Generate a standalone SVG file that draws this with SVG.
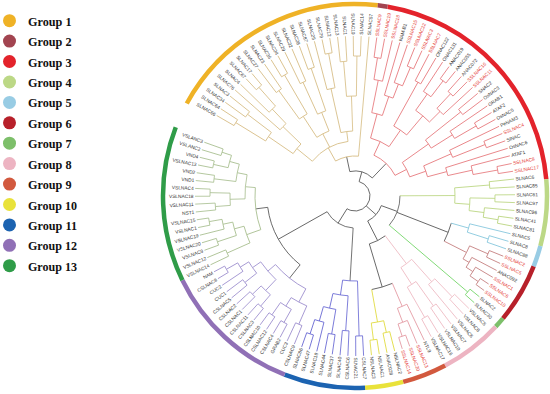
<svg xmlns="http://www.w3.org/2000/svg" width="550" height="394" viewBox="0 0 550 394">
<style>
.t{font-family:"Liberation Sans",Arial,sans-serif;font-size:4.8px;fill:#333}
.r{fill:#E53935}
.e{text-anchor:end}
.lg{font-family:"Liberation Serif","Times New Roman",serif;font-size:13px;font-weight:bold;fill:#111}
</style>
<rect width="550" height="394" fill="#fff"/>
<g id="legend">
<g id="legend-group1"><circle cx="9.5" cy="20.7" r="6.5" fill="#EFB226"/><text class="lg" x="28" y="25.7" textLength="43.5" lengthAdjust="spacingAndGlyphs">Group 1</text></g>
<g id="legend-group2"><circle cx="9.5" cy="41.1" r="6.5" fill="#A24450"/><text class="lg" x="28" y="46.1" textLength="43.5" lengthAdjust="spacingAndGlyphs">Group 2</text></g>
<g id="legend-group3"><circle cx="9.5" cy="61.5" r="6.5" fill="#E3232B"/><text class="lg" x="28" y="66.5" textLength="43.5" lengthAdjust="spacingAndGlyphs">Group 3</text></g>
<g id="legend-group4"><circle cx="9.5" cy="82" r="6.5" fill="#BCD886"/><text class="lg" x="28" y="87" textLength="43.5" lengthAdjust="spacingAndGlyphs">Group 4</text></g>
<g id="legend-group5"><circle cx="9.5" cy="102.4" r="6.5" fill="#98CCE4"/><text class="lg" x="28" y="107.4" textLength="43.5" lengthAdjust="spacingAndGlyphs">Group 5</text></g>
<g id="legend-group6"><circle cx="9.5" cy="122.8" r="6.5" fill="#B7202A"/><text class="lg" x="28" y="127.8" textLength="43.5" lengthAdjust="spacingAndGlyphs">Group 6</text></g>
<g id="legend-group7"><circle cx="9.5" cy="143.2" r="6.5" fill="#7DBF6A"/><text class="lg" x="28" y="148.2" textLength="43.5" lengthAdjust="spacingAndGlyphs">Group 7</text></g>
<g id="legend-group8"><circle cx="9.5" cy="163.6" r="6.5" fill="#EDB4C2"/><text class="lg" x="28" y="168.6" textLength="43.5" lengthAdjust="spacingAndGlyphs">Group 8</text></g>
<g id="legend-group9"><circle cx="9.5" cy="184.1" r="6.5" fill="#D2593E"/><text class="lg" x="28" y="189.1" textLength="43.5" lengthAdjust="spacingAndGlyphs">Group 9</text></g>
<g id="legend-group10"><circle cx="9.5" cy="204.5" r="6.5" fill="#E9E23A"/><text class="lg" x="28" y="209.5" textLength="49" lengthAdjust="spacingAndGlyphs">Group 10</text></g>
<g id="legend-group11"><circle cx="9.5" cy="224.9" r="6.5" fill="#1C63B1"/><text class="lg" x="28" y="229.9" textLength="49" lengthAdjust="spacingAndGlyphs">Group 11</text></g>
<g id="legend-group12"><circle cx="9.5" cy="245.3" r="6.5" fill="#9070B6"/><text class="lg" x="28" y="250.3" textLength="49" lengthAdjust="spacingAndGlyphs">Group 12</text></g>
<g id="legend-group13"><circle cx="9.5" cy="265.7" r="6.5" fill="#2F9C48"/><text class="lg" x="28" y="270.7" textLength="49" lengthAdjust="spacingAndGlyphs">Group 13</text></g>
</g>
<g transform="translate(355,196)">
<g id="ring" fill="none" stroke-width="4.5">
<circle r="192" pathLength="360" stroke-dasharray="68 360" transform="rotate(208.8)" stroke="#EFB226"/>
<circle r="192" pathLength="360" stroke-dasharray="3 360" transform="rotate(276.8)" stroke="#A24450"/>
<circle r="192" pathLength="360" stroke-dasharray="75.2 360" transform="rotate(279.8)" stroke="#E3232B"/>
<circle r="192" pathLength="360" stroke-dasharray="20.1 360" transform="rotate(355)" stroke="#BCD886"/>
<circle r="192" pathLength="360" stroke-dasharray="6.4 360" transform="rotate(375.1)" stroke="#98CCE4"/>
<circle r="192" pathLength="360" stroke-dasharray="18.1 360" transform="rotate(381.5)" stroke="#B7202A"/>
<circle r="192" pathLength="360" stroke-dasharray="3.3 360" transform="rotate(399.6)" stroke="#7DBF6A"/>
<circle r="192" pathLength="360" stroke-dasharray="19.1 360" transform="rotate(402.9)" stroke="#EDB4C2"/>
<circle r="192" pathLength="360" stroke-dasharray="13.5 360" transform="rotate(422)" stroke="#D2593E"/>
<circle r="192" pathLength="360" stroke-dasharray="11.5 360" transform="rotate(435.5)" stroke="#E9E23A"/>
<circle r="192" pathLength="360" stroke-dasharray="24.5 360" transform="rotate(447)" stroke="#1C63B1"/>
<circle r="192" pathLength="360" stroke-dasharray="42.5 360" transform="rotate(471.5)" stroke="#9070B6"/>
<circle r="192" pathLength="360" stroke-dasharray="47 360" transform="rotate(514)" stroke="#2F9C48"/>
</g>
<g id="connectors" fill="none" stroke-width="0.8">
<g stroke="#555">
<circle r="15" pathLength="360" stroke-dasharray="196.09 360" transform="rotate(285.88)"/>
<line x1="15" x2="25" transform="rotate(285.88)"/>
<circle r="25" pathLength="360" stroke-dasharray="55.8 360" transform="rotate(257.98)"/>
<line x1="25" x2="40" transform="rotate(257.98)"/>
<line x1="25" x2="45" transform="rotate(313.78)"/>
<line x1="15" x2="28" transform="rotate(401.57)"/>
<circle r="28" pathLength="360" stroke-dasharray="42.98 360" transform="rotate(380.08)"/>
<line x1="28" x2="45" transform="rotate(380.08)"/>
<circle r="45" pathLength="360" stroke-dasharray="40.68 360" transform="rotate(359.74)"/>
<line x1="45" x2="100" transform="rotate(381.31)"/>
<circle r="100" pathLength="360" stroke-dasharray="11.1 360" transform="rotate(375.76)"/>
<line x1="28" x2="50" transform="rotate(423.06)"/>
<circle r="50" pathLength="360" stroke-dasharray="20.61 360" transform="rotate(412.75)"/>
<line x1="50" x2="95" transform="rotate(433.36)"/>
<circle r="95" pathLength="360" stroke-dasharray="13.03 360" transform="rotate(426.84)"/>
<line x1="15" x2="32" transform="rotate(481.97)"/>
<circle r="32" pathLength="360" stroke-dasharray="57.24 360" transform="rotate(453.35)"/>
<line x1="32" x2="85" transform="rotate(453.35)"/>
<line x1="32" x2="88" transform="rotate(510.59)"/>
<circle r="88" pathLength="360" stroke-dasharray="44.03 360" transform="rotate(488.57)"/>
<line x1="88" x2="105" transform="rotate(488.57)"/>
<line x1="88" x2="100" transform="rotate(532.6)"/>
</g>
<g stroke="#D6BC83">
<circle r="40" pathLength="360" stroke-dasharray="34.07 360" transform="rotate(240.94)"/>
<line x1="40" x2="55" transform="rotate(240.94)"/>
<circle r="55" pathLength="360" stroke-dasharray="43.5 360" transform="rotate(219.19)"/>
<line x1="40" x2="160" transform="rotate(275.01)"/>
<line x1="55" x2="75" transform="rotate(219.19)"/>
<circle r="75" pathLength="360" stroke-dasharray="9.51 360" transform="rotate(214.43)"/>
<line x1="55" x2="70" transform="rotate(242.61)"/>
<circle r="70" pathLength="360" stroke-dasharray="11.28 360" transform="rotate(236.97)"/>
<line x1="55" x2="65" transform="rotate(262.69)"/>
<circle r="65" pathLength="360" stroke-dasharray="10.56 360" transform="rotate(257.41)"/>
<line x1="75" x2="105" transform="rotate(214.43)"/>
<circle r="105" pathLength="360" stroke-dasharray="5.64 360" transform="rotate(211.61)"/>
<line x1="75" x2="100" transform="rotate(223.94)"/>
<circle r="100" pathLength="360" stroke-dasharray="4.94 360" transform="rotate(221.47)"/>
<line x1="105" x2="140" transform="rotate(211.61)"/>
<circle r="140" pathLength="360" stroke-dasharray="2.82 360" transform="rotate(210.2)"/>
<line x1="105" x2="135" transform="rotate(217.25)"/>
<circle r="135" pathLength="360" stroke-dasharray="2.81 360" transform="rotate(215.84)"/>
<line x1="100" x2="160" transform="rotate(221.47)"/>
<line x1="100" x2="120" transform="rotate(226.41)"/>
<circle r="120" pathLength="360" stroke-dasharray="4.23 360" transform="rotate(224.29)"/>
<line x1="120" x2="160" transform="rotate(224.29)"/>
<line x1="120" x2="145" transform="rotate(228.52)"/>
<circle r="145" pathLength="360" stroke-dasharray="2.82 360" transform="rotate(227.11)"/>
<line x1="140" x2="160" transform="rotate(210.2)"/>
<line x1="140" x2="160" transform="rotate(213.02)"/>
<line x1="135" x2="160" transform="rotate(215.84)"/>
<line x1="135" x2="160" transform="rotate(218.65)"/>
<line x1="145" x2="160" transform="rotate(227.11)"/>
<line x1="145" x2="160" transform="rotate(229.93)"/>
<line x1="70" x2="95" transform="rotate(236.97)"/>
<circle r="95" pathLength="360" stroke-dasharray="5.64 360" transform="rotate(234.15)"/>
<line x1="70" x2="90" transform="rotate(248.25)"/>
<circle r="90" pathLength="360" stroke-dasharray="5.63 360" transform="rotate(245.43)"/>
<line x1="95" x2="130" transform="rotate(234.15)"/>
<circle r="130" pathLength="360" stroke-dasharray="2.82 360" transform="rotate(232.74)"/>
<line x1="130" x2="160" transform="rotate(232.74)"/>
<line x1="130" x2="160" transform="rotate(235.56)"/>
<line x1="95" x2="140" transform="rotate(239.79)"/>
<circle r="140" pathLength="360" stroke-dasharray="2.82 360" transform="rotate(238.38)"/>
<line x1="140" x2="160" transform="rotate(238.38)"/>
<line x1="140" x2="160" transform="rotate(241.2)"/>
<line x1="90" x2="125" transform="rotate(245.43)"/>
<circle r="125" pathLength="360" stroke-dasharray="2.81 360" transform="rotate(244.02)"/>
<line x1="125" x2="160" transform="rotate(244.02)"/>
<line x1="125" x2="160" transform="rotate(246.83)"/>
<line x1="90" x2="135" transform="rotate(251.06)"/>
<circle r="135" pathLength="360" stroke-dasharray="2.82 360" transform="rotate(249.65)"/>
<line x1="135" x2="160" transform="rotate(249.65)"/>
<line x1="135" x2="160" transform="rotate(252.47)"/>
<line x1="65" x2="110" transform="rotate(257.41)"/>
<circle r="110" pathLength="360" stroke-dasharray="4.23 360" transform="rotate(255.29)"/>
<line x1="110" x2="160" transform="rotate(255.29)"/>
<line x1="110" x2="145" transform="rotate(259.52)"/>
<circle r="145" pathLength="360" stroke-dasharray="2.81 360" transform="rotate(258.11)"/>
<line x1="145" x2="160" transform="rotate(258.11)"/>
<line x1="145" x2="160" transform="rotate(260.92)"/>
<line x1="65" x2="100" transform="rotate(267.97)"/>
<circle r="100" pathLength="360" stroke-dasharray="5.64 360" transform="rotate(265.15)"/>
<line x1="100" x2="135" transform="rotate(265.15)"/>
<circle r="135" pathLength="360" stroke-dasharray="2.82 360" transform="rotate(263.74)"/>
<line x1="135" x2="160" transform="rotate(263.74)"/>
<line x1="135" x2="160" transform="rotate(266.56)"/>
<line x1="100" x2="140" transform="rotate(270.79)"/>
<circle r="140" pathLength="360" stroke-dasharray="2.82 360" transform="rotate(269.38)"/>
<line x1="140" x2="160" transform="rotate(269.38)"/>
<line x1="140" x2="160" transform="rotate(272.2)"/>
</g>
<g stroke="#E6787C">
<circle r="45" pathLength="360" stroke-dasharray="37.87 360" transform="rotate(294.84)"/>
<line x1="45" x2="60" transform="rotate(294.84)"/>
<circle r="60" pathLength="360" stroke-dasharray="19.55 360" transform="rotate(285.06)"/>
<line x1="45" x2="58" transform="rotate(332.71)"/>
<circle r="58" pathLength="360" stroke-dasharray="16.03 360" transform="rotate(324.69)"/>
<line x1="60" x2="85" transform="rotate(285.06)"/>
<circle r="85" pathLength="360" stroke-dasharray="7.4 360" transform="rotate(281.36)"/>
<line x1="60" x2="80" transform="rotate(304.61)"/>
<circle r="80" pathLength="360" stroke-dasharray="11.27 360" transform="rotate(298.97)"/>
<line x1="85" x2="118" transform="rotate(281.36)"/>
<circle r="118" pathLength="360" stroke-dasharray="4.23 360" transform="rotate(279.24)"/>
<line x1="118" x2="160" transform="rotate(283.47)"/>
<line x1="118" x2="140" transform="rotate(279.24)"/>
<circle r="140" pathLength="360" stroke-dasharray="2.82 360" transform="rotate(277.83)"/>
<line x1="140" x2="160" transform="rotate(277.83)"/>
<line x1="140" x2="160" transform="rotate(280.65)"/>
<line x1="85" x2="105" transform="rotate(288.76)"/>
<circle r="105" pathLength="360" stroke-dasharray="4.93 360" transform="rotate(286.29)"/>
<line x1="105" x2="160" transform="rotate(286.29)"/>
<line x1="105" x2="120" transform="rotate(291.22)"/>
<circle r="120" pathLength="360" stroke-dasharray="4.23 360" transform="rotate(289.1)"/>
<line x1="120" x2="160" transform="rotate(289.1)"/>
<line x1="120" x2="140" transform="rotate(293.33)"/>
<circle r="140" pathLength="360" stroke-dasharray="2.82 360" transform="rotate(291.92)"/>
<line x1="140" x2="160" transform="rotate(291.92)"/>
<line x1="140" x2="160" transform="rotate(294.74)"/>
<line x1="80" x2="130" transform="rotate(298.97)"/>
<circle r="130" pathLength="360" stroke-dasharray="2.82 360" transform="rotate(297.56)"/>
<line x1="130" x2="160" transform="rotate(297.56)"/>
<line x1="130" x2="160" transform="rotate(300.38)"/>
<line x1="80" x2="105" transform="rotate(310.24)"/>
<circle r="105" pathLength="360" stroke-dasharray="9.86 360" transform="rotate(305.31)"/>
<line x1="105" x2="125" transform="rotate(305.31)"/>
<circle r="125" pathLength="360" stroke-dasharray="4.23 360" transform="rotate(303.19)"/>
<line x1="125" x2="160" transform="rotate(303.19)"/>
<line x1="125" x2="145" transform="rotate(307.42)"/>
<circle r="145" pathLength="360" stroke-dasharray="2.82 360" transform="rotate(306.01)"/>
<line x1="145" x2="160" transform="rotate(306.01)"/>
<line x1="145" x2="160" transform="rotate(308.83)"/>
<line x1="105" x2="120" transform="rotate(315.17)"/>
<circle r="120" pathLength="360" stroke-dasharray="4.22 360" transform="rotate(313.06)"/>
<line x1="120" x2="160" transform="rotate(317.28)"/>
<line x1="120" x2="140" transform="rotate(313.06)"/>
<circle r="140" pathLength="360" stroke-dasharray="2.82 360" transform="rotate(311.65)"/>
<line x1="140" x2="160" transform="rotate(311.65)"/>
<line x1="140" x2="160" transform="rotate(314.47)"/>
<line x1="58" x2="90" transform="rotate(324.69)"/>
<circle r="90" pathLength="360" stroke-dasharray="6.35 360" transform="rotate(321.51)"/>
<line x1="90" x2="135" transform="rotate(321.51)"/>
<circle r="135" pathLength="360" stroke-dasharray="2.82 360" transform="rotate(320.1)"/>
<line x1="135" x2="160" transform="rotate(320.1)"/>
<line x1="135" x2="160" transform="rotate(322.92)"/>
<line x1="90" x2="115" transform="rotate(327.86)"/>
<circle r="115" pathLength="360" stroke-dasharray="4.23 360" transform="rotate(325.74)"/>
<line x1="115" x2="160" transform="rotate(325.74)"/>
<line x1="115" x2="140" transform="rotate(329.97)"/>
<circle r="140" pathLength="360" stroke-dasharray="2.81 360" transform="rotate(328.56)"/>
<line x1="140" x2="160" transform="rotate(328.56)"/>
<line x1="140" x2="160" transform="rotate(331.37)"/>
<line x1="58" x2="75" transform="rotate(340.72)"/>
<circle r="75" pathLength="360" stroke-dasharray="8.81 360" transform="rotate(336.31)"/>
<line x1="75" x2="105" transform="rotate(336.31)"/>
<circle r="105" pathLength="360" stroke-dasharray="4.23 360" transform="rotate(334.19)"/>
<line x1="105" x2="160" transform="rotate(334.19)"/>
<line x1="105" x2="140" transform="rotate(338.42)"/>
<circle r="140" pathLength="360" stroke-dasharray="2.82 360" transform="rotate(337.01)"/>
<line x1="140" x2="160" transform="rotate(337.01)"/>
<line x1="140" x2="160" transform="rotate(339.83)"/>
<line x1="75" x2="95" transform="rotate(345.12)"/>
<circle r="95" pathLength="360" stroke-dasharray="4.93 360" transform="rotate(342.65)"/>
<line x1="95" x2="160" transform="rotate(342.65)"/>
<line x1="95" x2="120" transform="rotate(347.58)"/>
<circle r="120" pathLength="360" stroke-dasharray="4.23 360" transform="rotate(345.46)"/>
<line x1="120" x2="160" transform="rotate(345.46)"/>
<line x1="120" x2="145" transform="rotate(349.69)"/>
<circle r="145" pathLength="360" stroke-dasharray="2.82 360" transform="rotate(348.28)"/>
<line x1="145" x2="160" transform="rotate(348.28)"/>
<line x1="145" x2="160" transform="rotate(351.1)"/>
</g>
<g stroke="#B7D37A">
<line x1="45" x2="100" transform="rotate(359.74)"/>
<circle r="100" pathLength="360" stroke-dasharray="8.81 360" transform="rotate(355.33)"/>
<line x1="100" x2="135" transform="rotate(355.33)"/>
<circle r="135" pathLength="360" stroke-dasharray="2.82 360" transform="rotate(353.92)"/>
<line x1="135" x2="160" transform="rotate(353.92)"/>
<line x1="135" x2="160" transform="rotate(356.74)"/>
<line x1="100" x2="115" transform="rotate(364.14)"/>
<circle r="115" pathLength="360" stroke-dasharray="6.35 360" transform="rotate(360.96)"/>
<line x1="115" x2="140" transform="rotate(360.96)"/>
<circle r="140" pathLength="360" stroke-dasharray="2.82 360" transform="rotate(359.55)"/>
<line x1="140" x2="160" transform="rotate(359.55)"/>
<line x1="140" x2="160" transform="rotate(362.37)"/>
<line x1="115" x2="130" transform="rotate(367.31)"/>
<circle r="130" pathLength="360" stroke-dasharray="4.23 360" transform="rotate(365.19)"/>
<line x1="130" x2="160" transform="rotate(365.19)"/>
<line x1="130" x2="145" transform="rotate(369.42)"/>
<circle r="145" pathLength="360" stroke-dasharray="2.82 360" transform="rotate(368.01)"/>
<line x1="145" x2="160" transform="rotate(368.01)"/>
<line x1="145" x2="160" transform="rotate(370.83)"/>
</g>
<g stroke="#84C6DC">
<line x1="100" x2="118" transform="rotate(375.76)"/>
<circle r="118" pathLength="360" stroke-dasharray="4.23 360" transform="rotate(373.64)"/>
<line x1="118" x2="160" transform="rotate(373.64)"/>
<line x1="118" x2="140" transform="rotate(377.87)"/>
<circle r="140" pathLength="360" stroke-dasharray="2.82 360" transform="rotate(376.46)"/>
<line x1="140" x2="160" transform="rotate(376.46)"/>
<line x1="140" x2="160" transform="rotate(379.28)"/>
</g>
<g stroke="#C57F7F">
<line x1="100" x2="125" transform="rotate(386.86)"/>
<circle r="125" pathLength="360" stroke-dasharray="6.69 360" transform="rotate(383.51)"/>
<line x1="125" x2="145" transform="rotate(383.51)"/>
<circle r="145" pathLength="360" stroke-dasharray="2.82 360" transform="rotate(382.1)"/>
<line x1="145" x2="160" transform="rotate(382.1)"/>
<line x1="145" x2="160" transform="rotate(384.92)"/>
<line x1="125" x2="132" transform="rotate(390.2)"/>
<circle r="132" pathLength="360" stroke-dasharray="4.94 360" transform="rotate(387.73)"/>
<line x1="132" x2="160" transform="rotate(387.73)"/>
<line x1="132" x2="140" transform="rotate(392.67)"/>
<circle r="140" pathLength="360" stroke-dasharray="4.23 360" transform="rotate(390.55)"/>
<line x1="140" x2="160" transform="rotate(390.55)"/>
<line x1="140" x2="150" transform="rotate(394.78)"/>
<circle r="150" pathLength="360" stroke-dasharray="2.82 360" transform="rotate(393.37)"/>
<line x1="150" x2="160" transform="rotate(393.37)"/>
<line x1="150" x2="160" transform="rotate(396.19)"/>
</g>
<g stroke="#6FD463">
<line x1="45" x2="148" transform="rotate(400.42)"/>
<circle r="148" pathLength="360" stroke-dasharray="2.81 360" transform="rotate(399.01)"/>
<line x1="148" x2="160" transform="rotate(399.01)"/>
<line x1="148" x2="160" transform="rotate(401.82)"/>
</g>
<g stroke="#EEB9C2">
<line x1="50" x2="85" transform="rotate(412.75)"/>
<circle r="85" pathLength="360" stroke-dasharray="9.16 360" transform="rotate(408.17)"/>
<line x1="85" x2="115" transform="rotate(408.17)"/>
<circle r="115" pathLength="360" stroke-dasharray="4.23 360" transform="rotate(406.05)"/>
<line x1="115" x2="160" transform="rotate(410.28)"/>
<line x1="115" x2="140" transform="rotate(406.05)"/>
<circle r="140" pathLength="360" stroke-dasharray="2.82 360" transform="rotate(404.64)"/>
<line x1="140" x2="160" transform="rotate(404.64)"/>
<line x1="140" x2="160" transform="rotate(407.46)"/>
<line x1="85" x2="105" transform="rotate(417.33)"/>
<circle r="105" pathLength="360" stroke-dasharray="5.63 360" transform="rotate(414.51)"/>
<line x1="105" x2="135" transform="rotate(414.51)"/>
<circle r="135" pathLength="360" stroke-dasharray="2.81 360" transform="rotate(413.1)"/>
<line x1="135" x2="160" transform="rotate(413.1)"/>
<line x1="135" x2="160" transform="rotate(415.91)"/>
<line x1="105" x2="140" transform="rotate(420.14)"/>
<circle r="140" pathLength="360" stroke-dasharray="2.82 360" transform="rotate(418.73)"/>
<line x1="140" x2="160" transform="rotate(418.73)"/>
<line x1="140" x2="160" transform="rotate(421.55)"/>
</g>
<g stroke="#E49AA3">
<line x1="95" x2="120" transform="rotate(426.84)"/>
<circle r="120" pathLength="360" stroke-dasharray="4.93 360" transform="rotate(424.37)"/>
<line x1="120" x2="160" transform="rotate(424.37)"/>
<line x1="120" x2="135" transform="rotate(429.3)"/>
<circle r="135" pathLength="360" stroke-dasharray="4.22 360" transform="rotate(427.19)"/>
<line x1="135" x2="160" transform="rotate(427.19)"/>
<line x1="135" x2="148" transform="rotate(431.41)"/>
<circle r="148" pathLength="360" stroke-dasharray="2.82 360" transform="rotate(430)"/>
<line x1="148" x2="160" transform="rotate(430)"/>
<line x1="148" x2="160" transform="rotate(432.82)"/>
</g>
<g stroke="#E0DA3A">
<line x1="95" x2="128" transform="rotate(439.87)"/>
<circle r="128" pathLength="360" stroke-dasharray="5.64 360" transform="rotate(437.05)"/>
<line x1="128" x2="140" transform="rotate(437.05)"/>
<circle r="140" pathLength="360" stroke-dasharray="2.82 360" transform="rotate(435.64)"/>
<line x1="140" x2="160" transform="rotate(435.64)"/>
<line x1="140" x2="160" transform="rotate(438.46)"/>
<line x1="128" x2="145" transform="rotate(442.69)"/>
<circle r="145" pathLength="360" stroke-dasharray="2.81 360" transform="rotate(441.28)"/>
<line x1="145" x2="160" transform="rotate(441.28)"/>
<line x1="145" x2="160" transform="rotate(444.09)"/>
</g>
<g stroke="#6464D2">
<circle r="85" pathLength="360" stroke-dasharray="10.05 360" transform="rotate(448.32)"/>
<line x1="85" x2="140" transform="rotate(448.32)"/>
<circle r="140" pathLength="360" stroke-dasharray="2.82 360" transform="rotate(446.91)"/>
<line x1="140" x2="160" transform="rotate(446.91)"/>
<line x1="140" x2="160" transform="rotate(449.73)"/>
<line x1="85" x2="100" transform="rotate(458.37)"/>
<circle r="100" pathLength="360" stroke-dasharray="8.81 360" transform="rotate(453.96)"/>
<line x1="100" x2="135" transform="rotate(453.96)"/>
<circle r="135" pathLength="360" stroke-dasharray="2.82 360" transform="rotate(452.55)"/>
<line x1="135" x2="160" transform="rotate(452.55)"/>
<line x1="135" x2="160" transform="rotate(455.37)"/>
<line x1="100" x2="115" transform="rotate(462.77)"/>
<circle r="115" pathLength="360" stroke-dasharray="6.35 360" transform="rotate(459.59)"/>
<line x1="115" x2="140" transform="rotate(459.59)"/>
<circle r="140" pathLength="360" stroke-dasharray="2.82 360" transform="rotate(458.18)"/>
<line x1="140" x2="160" transform="rotate(458.18)"/>
<line x1="140" x2="160" transform="rotate(461)"/>
<line x1="115" x2="130" transform="rotate(465.94)"/>
<circle r="130" pathLength="360" stroke-dasharray="4.23 360" transform="rotate(463.82)"/>
<line x1="130" x2="160" transform="rotate(463.82)"/>
<line x1="130" x2="145" transform="rotate(468.05)"/>
<circle r="145" pathLength="360" stroke-dasharray="2.82 360" transform="rotate(466.64)"/>
<line x1="145" x2="160" transform="rotate(466.64)"/>
<line x1="145" x2="160" transform="rotate(469.46)"/>
</g>
<g stroke="#9C8ECE">
<circle r="105" pathLength="360" stroke-dasharray="21.32 360" transform="rotate(477.91)"/>
<line x1="105" x2="120" transform="rotate(477.91)"/>
<circle r="120" pathLength="360" stroke-dasharray="8.46 360" transform="rotate(473.68)"/>
<line x1="120" x2="140" transform="rotate(473.68)"/>
<circle r="140" pathLength="360" stroke-dasharray="2.82 360" transform="rotate(472.27)"/>
<line x1="140" x2="160" transform="rotate(472.27)"/>
<line x1="140" x2="160" transform="rotate(475.09)"/>
<line x1="120" x2="130" transform="rotate(482.14)"/>
<circle r="130" pathLength="360" stroke-dasharray="5.64 360" transform="rotate(479.32)"/>
<line x1="130" x2="145" transform="rotate(479.32)"/>
<circle r="145" pathLength="360" stroke-dasharray="2.82 360" transform="rotate(477.91)"/>
<line x1="145" x2="160" transform="rotate(477.91)"/>
<line x1="145" x2="160" transform="rotate(480.73)"/>
<line x1="130" x2="145" transform="rotate(484.96)"/>
<circle r="145" pathLength="360" stroke-dasharray="2.81 360" transform="rotate(483.55)"/>
<line x1="145" x2="160" transform="rotate(483.55)"/>
<line x1="145" x2="160" transform="rotate(486.36)"/>
<line x1="105" x2="115" transform="rotate(499.23)"/>
<circle r="115" pathLength="360" stroke-dasharray="11.63 360" transform="rotate(493.41)"/>
<line x1="115" x2="130" transform="rotate(493.41)"/>
<circle r="130" pathLength="360" stroke-dasharray="5.64 360" transform="rotate(490.59)"/>
<line x1="130" x2="145" transform="rotate(490.59)"/>
<circle r="145" pathLength="360" stroke-dasharray="2.82 360" transform="rotate(489.18)"/>
<line x1="145" x2="160" transform="rotate(489.18)"/>
<line x1="145" x2="160" transform="rotate(492)"/>
<line x1="130" x2="142" transform="rotate(496.23)"/>
<circle r="142" pathLength="360" stroke-dasharray="2.82 360" transform="rotate(494.82)"/>
<line x1="142" x2="160" transform="rotate(494.82)"/>
<line x1="142" x2="160" transform="rotate(497.64)"/>
<line x1="115" x2="125" transform="rotate(505.04)"/>
<circle r="125" pathLength="360" stroke-dasharray="6.35 360" transform="rotate(501.86)"/>
<line x1="125" x2="140" transform="rotate(501.86)"/>
<circle r="140" pathLength="360" stroke-dasharray="2.82 360" transform="rotate(500.45)"/>
<line x1="140" x2="160" transform="rotate(500.45)"/>
<line x1="140" x2="160" transform="rotate(503.27)"/>
<line x1="125" x2="135" transform="rotate(508.21)"/>
<circle r="135" pathLength="360" stroke-dasharray="4.23 360" transform="rotate(506.09)"/>
<line x1="135" x2="160" transform="rotate(506.09)"/>
<line x1="135" x2="148" transform="rotate(510.32)"/>
<circle r="148" pathLength="360" stroke-dasharray="2.82 360" transform="rotate(508.91)"/>
<line x1="148" x2="160" transform="rotate(508.91)"/>
<line x1="148" x2="160" transform="rotate(511.73)"/>
</g>
<g stroke="#A7BE8E">
<circle r="100" pathLength="360" stroke-dasharray="24.48 360" transform="rotate(520.36)"/>
<line x1="100" x2="115" transform="rotate(520.36)"/>
<circle r="115" pathLength="360" stroke-dasharray="8.81 360" transform="rotate(515.95)"/>
<line x1="115" x2="140" transform="rotate(515.95)"/>
<circle r="140" pathLength="360" stroke-dasharray="2.82 360" transform="rotate(514.54)"/>
<line x1="140" x2="160" transform="rotate(514.54)"/>
<line x1="140" x2="160" transform="rotate(517.36)"/>
<line x1="115" x2="125" transform="rotate(524.76)"/>
<circle r="125" pathLength="360" stroke-dasharray="6.34 360" transform="rotate(521.59)"/>
<line x1="125" x2="145" transform="rotate(521.59)"/>
<circle r="145" pathLength="360" stroke-dasharray="2.82 360" transform="rotate(520.18)"/>
<line x1="145" x2="160" transform="rotate(520.18)"/>
<line x1="145" x2="160" transform="rotate(523)"/>
<line x1="125" x2="135" transform="rotate(527.93)"/>
<circle r="135" pathLength="360" stroke-dasharray="4.22 360" transform="rotate(525.82)"/>
<line x1="135" x2="160" transform="rotate(525.82)"/>
<line x1="135" x2="148" transform="rotate(530.04)"/>
<circle r="148" pathLength="360" stroke-dasharray="2.82 360" transform="rotate(528.63)"/>
<line x1="148" x2="160" transform="rotate(528.63)"/>
<line x1="148" x2="160" transform="rotate(531.45)"/>
<line x1="100" x2="110" transform="rotate(544.84)"/>
<circle r="110" pathLength="360" stroke-dasharray="12.68 360" transform="rotate(538.5)"/>
<line x1="110" x2="125" transform="rotate(538.5)"/>
<circle r="125" pathLength="360" stroke-dasharray="5.64 360" transform="rotate(535.68)"/>
<line x1="125" x2="140" transform="rotate(535.68)"/>
<circle r="140" pathLength="360" stroke-dasharray="2.82 360" transform="rotate(534.27)"/>
<line x1="140" x2="160" transform="rotate(534.27)"/>
<line x1="140" x2="160" transform="rotate(537.09)"/>
<line x1="125" x2="145" transform="rotate(541.32)"/>
<circle r="145" pathLength="360" stroke-dasharray="2.81 360" transform="rotate(539.91)"/>
<line x1="145" x2="160" transform="rotate(539.91)"/>
<line x1="145" x2="160" transform="rotate(542.72)"/>
<line x1="110" x2="120" transform="rotate(551.18)"/>
<circle r="120" pathLength="360" stroke-dasharray="8.46 360" transform="rotate(546.95)"/>
<line x1="120" x2="142" transform="rotate(546.95)"/>
<circle r="142" pathLength="360" stroke-dasharray="2.82 360" transform="rotate(545.54)"/>
<line x1="142" x2="160" transform="rotate(545.54)"/>
<line x1="142" x2="160" transform="rotate(548.36)"/>
<line x1="120" x2="130" transform="rotate(555.41)"/>
<circle r="130" pathLength="360" stroke-dasharray="5.63 360" transform="rotate(552.59)"/>
<line x1="130" x2="145" transform="rotate(552.59)"/>
<circle r="145" pathLength="360" stroke-dasharray="2.82 360" transform="rotate(551.18)"/>
<line x1="145" x2="160" transform="rotate(551.18)"/>
<line x1="145" x2="160" transform="rotate(554)"/>
<line x1="130" x2="140" transform="rotate(558.22)"/>
<circle r="140" pathLength="360" stroke-dasharray="2.82 360" transform="rotate(556.81)"/>
<line x1="140" x2="160" transform="rotate(556.81)"/>
<line x1="140" x2="160" transform="rotate(559.63)"/>
</g>
</g>
<g id="tips">
<g id="SLNAC66"><text class="t e" x="-161.5" dy="1.7" transform="rotate(30.2)">SLNAC66</text></g>
<g id="SLNAC64"><text class="t e" x="-161.5" dy="1.7" transform="rotate(33.02)">SLNAC64</text></g>
<g id="SLNAC34"><text class="t e" x="-161.5" dy="1.7" transform="rotate(35.84)">SLNAC34</text></g>
<g id="SLNAC3"><text class="t e" x="-161.5" dy="1.7" transform="rotate(38.65)">SLNAC3</text></g>
<g id="SLNAC76"><text class="t e" x="-161.5" dy="1.7" transform="rotate(41.47)">SLNAC76</text></g>
<g id="SLNAC4"><text class="t e" x="-161.5" dy="1.7" transform="rotate(44.29)">SLNAC4</text></g>
<g id="SLNAC67"><text class="t e" x="-161.5" dy="1.7" transform="rotate(47.11)">SLNAC67</text></g>
<g id="SLNAC17"><text class="t e" x="-161.5" dy="1.7" transform="rotate(49.93)">SLNAC17</text></g>
<g id="SLNAC27"><text class="t e" x="-161.5" dy="1.7" transform="rotate(52.74)">SLNAC27</text></g>
<g id="SLNAC23"><text class="t e" x="-161.5" dy="1.7" transform="rotate(55.56)">SLNAC23</text></g>
<g id="SLNAC36"><text class="t e" x="-161.5" dy="1.7" transform="rotate(58.38)">SLNAC36</text></g>
<g id="SLNAC24"><text class="t e" x="-161.5" dy="1.7" transform="rotate(61.2)">SLNAC24</text></g>
<g id="SLNAC29"><text class="t e" x="-161.5" dy="1.7" transform="rotate(64.02)">SLNAC29</text></g>
<g id="SLNAC32"><text class="t e" x="-161.5" dy="1.7" transform="rotate(66.83)">SLNAC32</text></g>
<g id="SLNAC28"><text class="t e" x="-161.5" dy="1.7" transform="rotate(69.65)">SLNAC28</text></g>
<g id="SLNAC87"><text class="t e" x="-161.5" dy="1.7" transform="rotate(72.47)">SLNAC87</text></g>
<g id="SLNAC25"><text class="t e" x="-161.5" dy="1.7" transform="rotate(75.29)">SLNAC25</text></g>
<g id="SLNAC79"><text class="t e" x="-161.5" dy="1.7" transform="rotate(78.11)">SLNAC79</text></g>
<g id="SLNAC12"><text class="t e" x="-161.5" dy="1.7" transform="rotate(80.92)">SLNAC12</text></g>
<g id="SLNAC13"><text class="t e" x="-161.5" dy="1.7" transform="rotate(83.74)">SLNAC13</text></g>
<g id="SLNAC1"><text class="t e" x="-161.5" dy="1.7" transform="rotate(86.56)">SLNAC1</text></g>
<g id="SLNAC10"><text class="t e" x="-161.5" dy="1.7" transform="rotate(89.38)">SLNAC10</text></g>
<g id="SLNAC14"><text class="t" x="161.5" dy="1.7" transform="rotate(272.2)">SLNAC14</text></g>
<g id="SLNAC57"><text class="t" x="161.5" dy="1.7" transform="rotate(275.01)">SLNAC57</text></g>
<g id="SSLNAC9"><text class="t r" x="161.5" dy="1.7" transform="rotate(277.83)">SSLNAC9</text></g>
<g id="SSLNAC19"><text class="t r" x="161.5" dy="1.7" transform="rotate(280.65)">SSLNAC19</text></g>
<g id="SSLNAC18"><text class="t r" x="161.5" dy="1.7" transform="rotate(283.47)">SSLNAC18</text></g>
<g id="NAM-B1"><text class="t" x="161.5" dy="1.7" transform="rotate(286.29)">NAM-B1</text></g>
<g id="SSLNAC15"><text class="t r" x="161.5" dy="1.7" transform="rotate(289.1)">SSLNAC15</text></g>
<g id="SSLNAC22"><text class="t r" x="161.5" dy="1.7" transform="rotate(291.92)">SSLNAC22</text></g>
<g id="SSLNAC3"><text class="t r" x="161.5" dy="1.7" transform="rotate(294.74)">SSLNAC3</text></g>
<g id="SSLNAC7"><text class="t r" x="161.5" dy="1.7" transform="rotate(297.56)">SSLNAC7</text></g>
<g id="ONAC122"><text class="t" x="161.5" dy="1.7" transform="rotate(300.38)">ONAC122</text></g>
<g id="ONAC131"><text class="t" x="161.5" dy="1.7" transform="rotate(303.19)">ONAC131</text></g>
<g id="ANAC019"><text class="t" x="161.5" dy="1.7" transform="rotate(306.01)">ANAC019</text></g>
<g id="ANAC055"><text class="t" x="161.5" dy="1.7" transform="rotate(308.83)">ANAC055</text></g>
<g id="ANAC072"><text class="t" x="161.5" dy="1.7" transform="rotate(311.65)">ANAC072</text></g>
<g id="SSLNAC16"><text class="t r" x="161.5" dy="1.7" transform="rotate(314.47)">SSLNAC16</text></g>
<g id="SSLNAC11"><text class="t r" x="161.5" dy="1.7" transform="rotate(317.28)">SSLNAC11</text></g>
<g id="SNAC2"><text class="t" x="161.5" dy="1.7" transform="rotate(320.1)">SNAC2</text></g>
<g id="OsNAC3"><text class="t" x="161.5" dy="1.7" transform="rotate(322.92)">OsNAC3</text></g>
<g id="GRAB1"><text class="t" x="161.5" dy="1.7" transform="rotate(325.74)">GRAB1</text></g>
<g id="ATAF2"><text class="t" x="161.5" dy="1.7" transform="rotate(328.56)">ATAF2</text></g>
<g id="OsNAC5"><text class="t" x="161.5" dy="1.7" transform="rotate(331.37)">OsNAC5</text></g>
<g id="PeNAM3"><text class="t" x="161.5" dy="1.7" transform="rotate(334.19)">PeNAM3</text></g>
<g id="SSLNAC4"><text class="t r" x="161.5" dy="1.7" transform="rotate(337.01)">SSLNAC4</text></g>
<g id="SlNAC"><text class="t" x="161.5" dy="1.7" transform="rotate(339.83)">SlNAC</text></g>
<g id="OsNAC6"><text class="t" x="161.5" dy="1.7" transform="rotate(342.65)">OsNAC6</text></g>
<g id="ATAF1"><text class="t" x="161.5" dy="1.7" transform="rotate(345.46)">ATAF1</text></g>
<g id="SSLNAC8"><text class="t r" x="161.5" dy="1.7" transform="rotate(348.28)">SSLNAC8</text></g>
<g id="SSLNAC17"><text class="t r" x="161.5" dy="1.7" transform="rotate(351.1)">SSLNAC17</text></g>
<g id="SLNAC6"><text class="t" x="161.5" dy="1.7" transform="rotate(353.92)">SLNAC6</text></g>
<g id="SLNAC85"><text class="t" x="161.5" dy="1.7" transform="rotate(356.74)">SLNAC85</text></g>
<g id="SLNAC61"><text class="t" x="161.5" dy="1.7" transform="rotate(359.55)">SLNAC61</text></g>
<g id="SLNAC97"><text class="t" x="161.5" dy="1.7" transform="rotate(362.37)">SLNAC97</text></g>
<g id="SLNAC96"><text class="t" x="161.5" dy="1.7" transform="rotate(365.19)">SLNAC96</text></g>
<g id="SLNAC41"><text class="t" x="161.5" dy="1.7" transform="rotate(368.01)">SLNAC41</text></g>
<g id="SLNAC81"><text class="t" x="161.5" dy="1.7" transform="rotate(370.83)">SLNAC81</text></g>
<g id="SLNAC5"><text class="t" x="161.5" dy="1.7" transform="rotate(373.64)">SLNAC5</text></g>
<g id="SLNAC8"><text class="t" x="161.5" dy="1.7" transform="rotate(376.46)">SLNAC8</text></g>
<g id="SLNAC88"><text class="t" x="161.5" dy="1.7" transform="rotate(379.28)">SLNAC88</text></g>
<g id="SSLNAC2"><text class="t r" x="161.5" dy="1.7" transform="rotate(382.1)">SSLNAC2</text></g>
<g id="SSLNAC5"><text class="t r" x="161.5" dy="1.7" transform="rotate(384.92)">SSLNAC5</text></g>
<g id="ANAC092"><text class="t" x="161.5" dy="1.7" transform="rotate(387.73)">ANAC092</text></g>
<g id="SSLNAC1"><text class="t r" x="161.5" dy="1.7" transform="rotate(390.55)">SSLNAC1</text></g>
<g id="SSLNAC6"><text class="t r" x="161.5" dy="1.7" transform="rotate(393.37)">SSLNAC6</text></g>
<g id="SSLNAC10"><text class="t r" x="161.5" dy="1.7" transform="rotate(396.19)">SSLNAC10</text></g>
<g id="SLNAC2"><text class="t" x="161.5" dy="1.7" transform="rotate(399.01)">SLNAC2</text></g>
<g id="SLNAC30"><text class="t" x="161.5" dy="1.7" transform="rotate(401.82)">SLNAC30</text></g>
<g id="VSLNAC5"><text class="t" x="161.5" dy="1.7" transform="rotate(404.64)">VSLNAC5</text></g>
<g id="VSLNAC8"><text class="t" x="161.5" dy="1.7" transform="rotate(407.46)">VSLNAC8</text></g>
<g id="VSLNAC6"><text class="t" x="161.5" dy="1.7" transform="rotate(410.28)">VSLNAC6</text></g>
<g id="VSLNAC7"><text class="t" x="161.5" dy="1.7" transform="rotate(413.1)">VSLNAC7</text></g>
<g id="VSLNAC10"><text class="t" x="161.5" dy="1.7" transform="rotate(415.91)">VSLNAC10</text></g>
<g id="VSLNAC16"><text class="t" x="161.5" dy="1.7" transform="rotate(418.73)">VSLNAC16</text></g>
<g id="VSLNAC17"><text class="t" x="161.5" dy="1.7" transform="rotate(421.55)">VSLNAC17</text></g>
<g id="NTL9"><text class="t" x="161.5" dy="1.7" transform="rotate(424.37)">NTL9</text></g>
<g id="SSLNAC13"><text class="t r" x="161.5" dy="1.7" transform="rotate(427.19)">SSLNAC13</text></g>
<g id="SSLNAC20"><text class="t r" x="161.5" dy="1.7" transform="rotate(430)">SSLNAC20</text></g>
<g id="SSLNAC14"><text class="t r" x="161.5" dy="1.7" transform="rotate(432.82)">SSLNAC14</text></g>
<g id="NSLNAC2"><text class="t" x="161.5" dy="1.7" transform="rotate(435.64)">NSLNAC2</text></g>
<g id="ANAC028"><text class="t" x="161.5" dy="1.7" transform="rotate(438.46)">ANAC028</text></g>
<g id="NSLNAC1"><text class="t" x="161.5" dy="1.7" transform="rotate(441.28)">NSLNAC1</text></g>
<g id="NSLNAC3"><text class="t" x="161.5" dy="1.7" transform="rotate(444.09)">NSLNAC3</text></g>
<g id="CSLNAC7"><text class="t" x="161.5" dy="1.7" transform="rotate(446.91)">CSLNAC7</text></g>
<g id="SLNAC21"><text class="t" x="161.5" dy="1.7" transform="rotate(449.73)">SLNAC21</text></g>
<g id="CSLNAC6"><text class="t e" x="-161.5" dy="1.7" transform="rotate(-87.45)">CSLNAC6</text></g>
<g id="SLNAC40"><text class="t e" x="-161.5" dy="1.7" transform="rotate(-84.63)">SLNAC40</text></g>
<g id="SLNAC37"><text class="t e" x="-161.5" dy="1.7" transform="rotate(-81.82)">SLNAC37</text></g>
<g id="SLNAC44"><text class="t e" x="-161.5" dy="1.7" transform="rotate(-79)">SLNAC44</text></g>
<g id="SLNAC18"><text class="t e" x="-161.5" dy="1.7" transform="rotate(-76.18)">SLNAC18</text></g>
<g id="SLNAC47"><text class="t e" x="-161.5" dy="1.7" transform="rotate(-73.36)">SLNAC47</text></g>
<g id="SLNAC86"><text class="t e" x="-161.5" dy="1.7" transform="rotate(-70.54)">SLNAC86</text></g>
<g id="CSLNAC9"><text class="t e" x="-161.5" dy="1.7" transform="rotate(-67.73)">CSLNAC9</text></g>
<g id="CUC3"><text class="t e" x="-161.5" dy="1.7" transform="rotate(-64.91)">CUC3</text></g>
<g id="GRAB2"><text class="t e" x="-161.5" dy="1.7" transform="rotate(-62.09)">GRAB2</text></g>
<g id="CSLNAC4"><text class="t e" x="-161.5" dy="1.7" transform="rotate(-59.27)">CSLNAC4</text></g>
<g id="CSLNAC12"><text class="t e" x="-161.5" dy="1.7" transform="rotate(-56.45)">CSLNAC12</text></g>
<g id="CSLNAC10"><text class="t e" x="-161.5" dy="1.7" transform="rotate(-53.64)">CSLNAC10</text></g>
<g id="CSLNAC3"><text class="t e" x="-161.5" dy="1.7" transform="rotate(-50.82)">CSLNAC3</text></g>
<g id="CSLNAC11"><text class="t e" x="-161.5" dy="1.7" transform="rotate(-48)">CSLNAC11</text></g>
<g id="CSLNAC1"><text class="t e" x="-161.5" dy="1.7" transform="rotate(-45.18)">CSLNAC1</text></g>
<g id="CSLNAC2"><text class="t e" x="-161.5" dy="1.7" transform="rotate(-42.36)">CSLNAC2</text></g>
<g id="CSLNAC5"><text class="t e" x="-161.5" dy="1.7" transform="rotate(-39.55)">CSLNAC5</text></g>
<g id="CUC1"><text class="t e" x="-161.5" dy="1.7" transform="rotate(-36.73)">CUC1</text></g>
<g id="CUC2"><text class="t e" x="-161.5" dy="1.7" transform="rotate(-33.91)">CUC2</text></g>
<g id="CSLNAC8"><text class="t e" x="-161.5" dy="1.7" transform="rotate(-31.09)">CSLNAC8</text></g>
<g id="NAM"><text class="t e" x="-161.5" dy="1.7" transform="rotate(-28.27)">NAM</text></g>
<g id="VSLNAC14"><text class="t e" x="-161.5" dy="1.7" transform="rotate(-25.46)">VSLNAC14</text></g>
<g id="VSLNAC12"><text class="t e" x="-161.5" dy="1.7" transform="rotate(-22.64)">VSLNAC12</text></g>
<g id="VSLNAC9"><text class="t e" x="-161.5" dy="1.7" transform="rotate(-19.82)">VSLNAC9</text></g>
<g id="VSLNAC20"><text class="t e" x="-161.5" dy="1.7" transform="rotate(-17)">VSLNAC20</text></g>
<g id="VSLNAC19"><text class="t e" x="-161.5" dy="1.7" transform="rotate(-14.18)">VSLNAC19</text></g>
<g id="VSLNAC1"><text class="t e" x="-161.5" dy="1.7" transform="rotate(-11.37)">VSLNAC1</text></g>
<g id="VSLNAC15"><text class="t e" x="-161.5" dy="1.7" transform="rotate(-8.55)">VSLNAC15</text></g>
<g id="NST1"><text class="t e" x="-161.5" dy="1.7" transform="rotate(-5.73)">NST1</text></g>
<g id="VSLNAC11"><text class="t e" x="-161.5" dy="1.7" transform="rotate(-2.91)">VSLNAC11</text></g>
<g id="VSLNAC18"><text class="t e" x="-161.5" dy="1.7" transform="rotate(-0.09)">VSLNAC18</text></g>
<g id="VSLNAC4"><text class="t e" x="-161.5" dy="1.7" transform="rotate(2.72)">VSLNAC4</text></g>
<g id="VND1"><text class="t e" x="-161.5" dy="1.7" transform="rotate(5.54)">VND1</text></g>
<g id="VND2"><text class="t e" x="-161.5" dy="1.7" transform="rotate(8.36)">VND2</text></g>
<g id="VSLNAC13"><text class="t e" x="-161.5" dy="1.7" transform="rotate(11.18)">VSLNAC13</text></g>
<g id="VND4"><text class="t e" x="-161.5" dy="1.7" transform="rotate(14)">VND4</text></g>
<g id="VSLANC2"><text class="t e" x="-161.5" dy="1.7" transform="rotate(16.81)">VSLANC2</text></g>
<g id="VSLANC3"><text class="t e" x="-161.5" dy="1.7" transform="rotate(19.63)">VSLANC3</text></g>
</g>
</g>
</svg>
